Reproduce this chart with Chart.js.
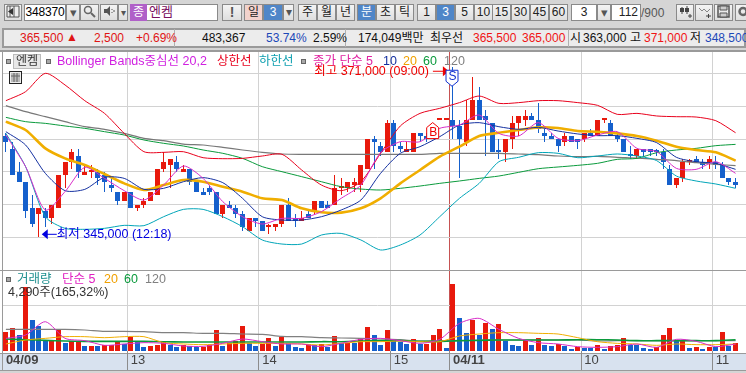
<!DOCTYPE html>
<html>
<head>
<meta charset="utf-8">
<script src="https://cdn.jsdelivr.net/npm/chart.js@4"></script>
<style>
html,body{margin:0;padding:0;width:746px;height:373px;overflow:hidden;background:#d5d5d5}
body{font-family:"Liberation Sans","Noto Sans CJK KR",sans-serif;font-size:12px;color:#222}
#root{position:absolute;left:0;top:0;width:746px;height:373px;overflow:hidden}
.b{position:absolute;box-sizing:border-box;text-align:center;white-space:nowrap}
.btn{background:linear-gradient(#f4f4f4,#dedede);border:1px solid #8a8a8a;color:#222}
.t{position:absolute;white-space:nowrap;line-height:14px}
canvas{position:absolute;left:0}
</style>
</head>
<body>
<div id="root">
  <div class="b" style="left:0;top:51px;width:746px;height:302px;background:#fff"></div>
  <div class="b" style="left:0;top:353px;width:746px;height:18px;background:#d8e2ef;border-top:1px solid #9a9a9a;border-bottom:1px solid #9a9a9a"></div>
  <canvas id="priceChart"></canvas>
  <canvas id="volChart"></canvas>
  <div id="ui"></div>
</div>
<script>
// 3 minute bars, 04/09 12:03 -> 04/11 11:09 (last two labels are the empty space on the right)
const labels = ["12:03","12:06","12:09","12:12","12:15","12:18","12:21","12:24","12:27","12:30","12:33","12:36","12:39","12:42","12:45","12:48","12:51","12:54","12:57",
  "13:00","13:03","13:06","13:09","13:12","13:15","13:18","13:21","13:24","13:27","13:30","13:33","13:36","13:39","13:42","13:45","13:48","13:51","13:54","13:57",
  "14:00","14:03","14:06","14:09","14:12","14:15","14:18","14:21","14:24","14:27","14:30","14:33","14:36","14:39","14:42","14:45","14:48","14:51","14:54","14:57",
  "15:00","15:03","15:06","15:09","15:12","15:15","15:18","15:21","15:24",
  "09:00","09:03","09:06","09:09","09:12","09:15","09:18","09:21","09:24","09:27","09:30","09:33","09:36","09:39","09:42","09:45","09:48","09:51","09:54","09:57",
  "10:00","10:03","10:06","10:09","10:12","10:15","10:18","10:21","10:24","10:27","10:30","10:33","10:36","10:39","10:42","10:45","10:48","10:51","10:54","10:57",
  "11:00","11:03","11:06","11:09","",""];

const opens = [360500,358500,355000,353500,349500,348500,349000,348000,349500,354500,356500,357500,354500,355000,355000,354500,353000,352000,350500,352000,
  349500,350000,350500,351500,355500,356000,356500,355000,355500,353500,352000,352500,352000,348500,350000,349500,348500,346000,348000,347500,
  346500,346500,347000,350000,348000,347500,348500,349000,350500,350000,350000,352500,352500,353000,353000,355500,360000,359000,358000,362500,
  359000,358000,358000,361000,360500,360500,363000,363000,363000,362000,359500,363000,366000,363500,362500,358000,358000,360000,362500,363000,
  363500,363000,361000,360500,360000,359500,360500,360000,360000,361000,360500,363000,362500,360500,360000,357500,357500,358500,358500,358000,
  358000,355500,353000,354000,356500,357000,356500,356500,356500,356000,354000,353500];
const closes = [359500,354500,353500,349000,347000,349500,348000,350000,354500,356500,358000,355000,355000,355000,354000,353500,352500,350500,352000,349500,
  350000,350500,352000,355500,356500,357000,355500,355500,353500,352000,351500,352000,348500,350000,349500,348500,346500,348000,347500,346000,
  346500,347000,350000,347500,347500,348000,348000,350500,349500,349500,352500,352500,353500,353500,356000,360000,359500,358000,362500,359000,
  358500,358500,361000,360500,360000,361000,363000,363000,362000,360000,363000,366000,363000,363000,358000,358000,360000,362500,363500,363500,
  363000,361500,360500,360000,359000,360500,359500,359500,361000,360500,363000,363000,360500,360000,358000,357500,358500,358000,358000,358000,
  356500,353000,354000,356500,356500,356500,356000,357000,356000,354000,353500,353000];
const highs = [361000,359500,356500,353500,351500,349500,349500,350000,354500,356500,358500,358500,356000,356000,355500,355000,354000,352000,352000,352000,
  350000,351000,352000,355500,358000,357000,357500,356000,355500,353500,352500,353000,352000,350000,350500,350000,349000,348000,348000,347500,
  347000,347000,350000,351000,348500,349000,349000,350500,350500,350500,354500,354000,353500,354000,356000,360000,360500,359500,363000,363000,
  359500,359500,361000,361000,361000,361000,363000,363000,371000,363000,366000,369500,368000,364500,362500,360000,360000,363500,363500,364500,
  364000,365500,361500,361000,360000,361000,360500,360000,361000,361500,363000,363000,363000,361000,360000,359000,358500,358500,358500,358500,
  358500,356000,354000,357000,357000,357500,357000,357500,357500,356500,354000,354000];
const lows = [358000,354500,353500,348000,346500,345000,346500,347000,349500,352500,355500,354000,354500,354000,353000,352000,352000,350000,350500,349500,
  349000,349500,350500,351500,355000,352500,355000,355000,353000,352000,351500,351500,348500,348000,349500,348000,346000,346000,346500,346000,
  345500,346000,346500,347500,346500,347500,348000,348500,349500,349500,350000,351500,352000,352000,352000,355500,355500,357500,358000,358000,
  358000,358000,358000,359500,359500,360000,363000,363000,360000,354000,359000,363000,363000,357500,358000,357000,356500,358500,360500,362000,
  363000,361000,359500,360000,358000,359000,359500,358500,359500,360500,360500,362500,360500,359500,358000,357000,357000,357500,357500,357500,
  355500,353000,352500,353500,356000,356500,355500,355500,355500,354000,353000,352500];
// bars with open == close that are painted blue
const flatDown = [75,95,99];

const volumes = [10550,12770,8880,35700,17200,13880,5370,5550,11660,4260,5370,5550,2780,2960,2780,3150,3330,5180,3700,7770,
  5000,2220,2780,3150,5180,3150,2220,3150,2960,2220,2400,3150,11660,2780,4260,5370,13880,4260,2780,4070,
  7220,2780,7770,4630,2220,1670,3890,3330,3890,2220,8330,4260,4440,4260,7220,13320,8880,3330,11660,6110,
  5000,3890,6660,3890,4070,8880,12210,1670,37190,18320,10000,17200,8880,15540,12210,14990,5740,3330,2780,6110,
  3330,7220,3330,2780,3890,2780,1110,2410,1850,1800,3330,1110,2780,3330,7220,3330,3200,1670,1110,2220,
  8880,12770,5740,5800,1670,2220,1110,2410,2040,10550,2780,4290];

// the moving averages
const lineIdx = [0,3,6,9,12,15,18,21,24,27,30,33,36,39,42,45,48,51,54,57,60,63,66,69,72,75,78,81,84,87,90,93,96,99,102,105,108,111];
const bbUpper = [365890,367270,370070,368290,365890,363950,360890,358090,357990,358090,357170,357020,357070,357430,357690,355290,352990,352130,353500,357840,362020,363950,364720,365590,366600,365480,365590,365890,365890,365590,365180,363800,363950,363550,363440,363390,362830,360990];
const bbLower = [360890,355800,348150,346370,346220,346370,346830,346780,348150,349270,349270,348150,346620,344590,343970,343970,345350,345600,344590,343060,343820,345350,348150,350960,353250,356560,357230,357940,357840,357170,357430,357740,357430,356720,354370,353610,353150,352490];
const ma5 = [360640,355800,349170,351980,355700,354010,352130,350700,352990,355900,354010,350450,348150,347030,347900,347900,348920,350960,352990,357940,359620,359620,361660,362170,363700,360890,360490,362530,360130,359770,360640,361150,358600,358090,355540,355390,356560,354780];
const ma10 = [361150,359110,354780,352130,352330,354170,354010,352330,352490,353500,354120,353350,350960,348150,347640,347640,348150,349170,350700,354780,357840,358860,360390,362170,362530,361910,361510,361810,361250,360800,360540,360540,360130,359470,357230,356560,356310,355390];
const ma20 = [362680,361400,358600,357070,356050,354680,353250,352230,352990,353760,353500,352740,351980,350960,350700,349430,348820,348770,349430,350960,353250,355290,357330,358860,360490,360990,361400,361810,361710,361250,361150,360890,360490,359770,358860,358350,357990,356720];
const ma60 = [363340,362680,362420,362020,361660,361150,360640,359880,359370,358960,358350,357840,357070,355800,355030,354270,353500,352740,352380,352230,352490,352840,353250,353610,354010,354370,354930,355490,355750,356000,356310,356920,357070,357940,358350,358600,359010,359210];
const ma120 = [365130,364210,363440,362680,361910,361510,360890,360130,359770,359260,359110,358750,358350,357990,357740,357690,357690,357690,357690,357690,357690,357690,357840,357840,357840,357840,357740,357630,357430,357330,357380,357230,357120,356920,356720,356410,356160,355950];

const volMa5 = [7030,8880,16280,7030,5740,3150,3890,4630,4260,2780,2590,4260,6660,5180,3890,3890,2410,4260,6480,7030,5740,4260,6480,15360,18130,12030,7030,4630,3890,2410,2040,2410,3890,2040,6480,5370,2410,3890];
const volMa20 = [3890,6110,7030,7960,7960,7400,7960,7960,4630,3890,3520,3890,4260,4260,4260,3890,3330,4260,5180,5180,5550,5180,5180,8330,9440,10180,10180,9810,9440,7400,5180,4260,3890,3150,3890,3520,3520,3890];
const volMa60 = [6660,6290,5920,5550,5370,5370,5370,5370,5180,5000,5000,5000,5000,5000,5000,5000,5180,5180,5550,5740,5740,5370,5370,5740,5920,6110,6110,6110,6110,6290,6290,6110,5740,5740,5740,5740,5740,6290];
const volMa120 = [12030,12030,12030,12030,11660,10920,10920,10730,10180,10180,9810,9810,9440,9250,8140,7960,7400,7220,7030,6660,6290,5550,5740,5740,5920,6110,6110,6110,6110,6110,5550,5740,5740,5740,5740,5740,5740,5740];

// tick labels under the chart, index -> text
const timeTickIdx = [0,19,39,59,68,88,108];
const timeTicks = ["04/09","13","14","15","04/11","10","11"];
const dateTicks = ["04/09","04/11"];
const priceGrid = [345000,350000,355000,360000,365000,370000];
const volGrid = [25000];

const RED = "#e8190c", BLUE = "#1560cc", GRID = "#d2d2d2", MARK = "#c65252";
const FONT = '"Liberation Sans","Noto Sans CJK KR",sans-serif';

function candleColor(i){
  if (closes[i] > opens[i]) return RED;
  if (closes[i] < opens[i]) return BLUE;
  return flatDown.includes(i) ? BLUE : RED;
}

function lineSet(values, color, width, order){
  return {
    type: "line",
    data: values.map((v,i) => ({x: labels[lineIdx[i]], y: v})),
    borderColor: color, borderWidth: width, pointRadius: 0, tension: 0.25, order: order
  };
}

// keep the bars on whole pixels, the original has no blur on wicks
const snapBars = {
  id: "snapBars",
  afterDatasetsUpdate(chart){
    chart.getSortedVisibleDatasetMetas().forEach(meta => {
      if (meta.type !== "bar") return;
      meta.data.forEach(el => {
        el.x = Math.floor(el.x) + 0.5;
        el.y = Math.round(el.y);
        el.base = Math.round(el.base);
      });
    });
  }
};

function gridWidth(ctx){
  return timeTickIdx.slice(1).includes(ctx.index) ? 1 : 0;
}
function gridColor(ctx){
  return ctx.index === 68 ? MARK : GRID;
}

const marks = {
  id: "marks",
  afterDatasetsDraw(chart){
    const c = chart.ctx, x = chart.scales.x, y = chart.scales.y;
    c.save();
    c.textBaseline = "middle";
    c.font = "12.500px " + FONT;

    // lowest price
    const lowX = x.getPixelForValue(5), lowY = y.getPixelForValue(345000) - 3;
    c.fillStyle = c.strokeStyle = "#0000e0";
    c.fillRect(lowX + 8, lowY - 0.5, 10, 1);
    c.beginPath(); c.moveTo(lowX + 3, lowY); c.lineTo(lowX + 9, lowY - 5); c.lineTo(lowX + 9, lowY + 5); c.fill();
    c.fillText("최저 345,000 (12:18)", lowX + 18, lowY);

    // highest price
    const highX = x.getPixelForValue(68), highY = y.getPixelForValue(371000) + 4;
    c.fillStyle = "#f00000";
    c.textAlign = "right";
    c.fillText("최고 371,000 (09:00)", highX - 24, highY);
    c.fillRect(highX - 20, highY - 0.5, 12, 1);
    c.beginPath(); c.moveTo(highX - 4, highY); c.lineTo(highX - 10, highY - 5); c.lineTo(highX - 10, highY + 5); c.fill();

    // sell and buy signals
    shield(c, Math.floor(highX), y.getPixelForValue(371000) + 3, "S", "#1030d0", true);
    shield(c, x.getPixelForValue(65) - 0.5, y.getPixelForValue(363000) + 3, "B", "#f00000", false);
    c.restore();
  }
};

function shield(c, cx, top, txt, color, down){
  const w = 6, h = 16;
  c.beginPath();
  if (down){
    c.moveTo(cx - w, top); c.lineTo(cx + w, top); c.lineTo(cx + w, top + h - 5); c.lineTo(cx, top + h); c.lineTo(cx - w, top + h - 5);
  } else {
    c.moveTo(cx, top); c.lineTo(cx + w, top + 5); c.lineTo(cx + w, top + h); c.lineTo(cx - w, top + h); c.lineTo(cx - w, top + 5);
  }
  c.closePath();
  c.fillStyle = "#fff"; c.fill();
  c.lineWidth = 1; c.strokeStyle = color; c.stroke();
  c.fillStyle = color;
  c.textAlign = "center";
  c.font = "12px " + FONT;
  c.fillText(txt, cx + 0.5, top + (down ? 6 : 10));
}

function baseOptions(yMin, yMax, gridValues){
  return {
    responsive: false, animation: false, events: [],
    layout: {padding: {left: 2.6, right: 0, top: 0, bottom: 0}},
    plugins: {legend: {display: false}, tooltip: {enabled: false}},
    scales: {
      x: {
        offset: true,
        border: {display: false},
        grid: {offset: true, color: gridColor, lineWidth: gridWidth, drawTicks: false, tickLength: 0},
        ticks: {display: false, autoSkip: false},
        afterFit: s => { s.height = 0; }
      },
      y: {
        min: yMin, max: yMax,
        border: {display: false},
        grid: {color: GRID, drawTicks: false, tickLength: 0},
        ticks: {display: false},
        afterBuildTicks: s => { s.ticks = gridValues.map(v => ({value: v})); },
        afterFit: s => { s.width = 0; }
      }
    }
  };
}

// price pane
const priceCanvas = document.getElementById("priceChart");
priceCanvas.style.top = "52px";
priceCanvas.width = 752; priceCanvas.height = 218;
new Chart(priceCanvas, {
  type: "bar",
  data: {
    labels: labels,
    datasets: [
      {data: lows.map((l,i) => [l, highs[i]]), backgroundColor: opens.map((o,i) => candleColor(i)), barThickness: 1, grouped: false, inflateAmount: 0, order: 11},
      {data: opens.map((o,i) => [Math.min(o, closes[i]), Math.max(o, closes[i])]), backgroundColor: opens.map((o,i) => candleColor(i)), barThickness: 5, minBarLength: 2, grouped: false, inflateAmount: 0, order: 10},
      lineSet(ma120, "#787878", 1.2, 7),
      lineSet(ma60, "#0a9a3c", 1, 6),
      lineSet(bbUpper, "#e8001c", 1, 5),
      lineSet(bbLower, "#00a5b8", 1, 5),
      lineSet(ma20, "#d82cc8", 1, 4),
      lineSet(ma20, "#f0ae00", 2.6, 3),
      lineSet(ma10, "#1430a0", 1, 2),
      lineSet(ma5, "#d82cc8", 1, 1)
    ]
  },
  options: baseOptions(340000, 373333, priceGrid),
  plugins: [snapBars, marks]
});

// volume pane, its x axis carries the time labels
const volCanvas = document.getElementById("volChart");
volCanvas.style.top = "271px";
volCanvas.width = 752; volCanvas.height = 100;
const volOptions = baseOptions(0, 44444, volGrid);
volOptions.scales.x.afterFit = s => { s.height = 20; };
volOptions.scales.x.grid.drawTicks = true;
volOptions.scales.x.grid.tickLength = 19;
volOptions.scales.x.grid.tickColor = "#8c8c8c";
volOptions.scales.x.ticks = {
  display: true, autoSkip: false, maxRotation: 0, align: "start", padding: -17, color: "#444",
  font: ctx => ({size: 13, family: FONT, weight: dateTicks.includes(timeTicks[timeTickIdx.indexOf(ctx.index)]) ? "bold" : "normal"}),
  callback: (v, i) => { const k = timeTickIdx.indexOf(i); return k >= 0 ? timeTicks[k] : ""; }
};
new Chart(volCanvas, {
  type: "bar",
  data: {
    labels: labels,
    datasets: [
      {data: volumes, backgroundColor: volumes.map((v,i) => (i === 0 || v >= volumes[i-1]) ? RED : BLUE), barThickness: 5, inflateAmount: 0, order: 10},
      lineSet(volMa120, "#808080", 1.2, 4),
      lineSet(volMa60, "#0a9a3c", 1.6, 3),
      lineSet(volMa20, "#f0ae00", 1, 2),
      lineSet(volMa5, "#d82cc8", 1, 1)
    ]
  },
  options: volOptions,
  plugins: [snapBars]
});

// toolbar and legend text, plain html
const ui = document.getElementById("ui");
function box(x, y, w, h, txt, css){
  const d = document.createElement("div");
  d.className = "b btn";
  d.style.cssText = `left:${x}px;top:${y}px;width:${w}px;height:${h}px;line-height:${h-2}px;` + (css || "");
  d.innerHTML = txt;
  ui.appendChild(d);
}
function text(x, y, txt, color, css){
  const d = document.createElement("div");
  d.className = "t";
  d.style.cssText = `left:${x}px;top:${y}px;color:${color};` + (css || "");
  d.textContent = txt;
  ui.appendChild(d);
}
const white = "background:#fff;";
const big = "font-size:12.5px;";

// first row
box(4, 4, 18, 17, '<svg width="14" height="13" viewBox="0 0 14 13"><path d="M1 1h12v11H1z" fill="#eee" stroke="#555"/><path d="M4 1v11M8 1v11" stroke="#555"/><path d="M7 3L2 6.5 7 10z" fill="#333"/></svg>');
box(24, 4, 42, 17, "348370", white + "font-size:12px;letter-spacing:-0.2px;color:#000;");
box(66, 4, 14, 17, "▾", "color:#555;font-size:13px;");
box(80, 4, 19, 17, '<svg width="13" height="13" viewBox="0 0 13 13"><circle cx="5" cy="5" r="3.5" fill="none" stroke="#666" stroke-width="1.5"/><path d="M8 8l4 4" stroke="#666" stroke-width="2"/></svg>');
box(100, 4, 18, 17, '<svg width="12" height="12" viewBox="0 0 12 12"><path d="M1 4h3l3-3v10L4 8H1z" fill="#555"/><path d="M9 4v1M9 7v1M11 5v2" stroke="#555"/></svg>');
box(118, 4, 10, 17, "▾", "color:#555;font-size:10px;");
box(130, 4, 88, 17, "", white);
box(130, 4, 17, 17, "종", "background:#b060c8;color:#fff;border-color:#b060c8;");
text(149, 5, "엔켐", "#7a1060", "font-size:13px;");
box(222, 4, 20, 17, "!", "color:#555;font-weight:bold;font-size:14px;");
box(244, 4, 19, 17, "일", "background:#f2d2cc;");
box(263, 4, 20, 17, "3", "background:#4f86c8;color:#fff;");
box(283, 4, 11, 17, "▾", "color:#555;font-size:12px;");
[["주",298],["월",317],["년",336],["초",376],["틱",395]].forEach(b => box(b[1], 4, 19, 17, b[0]));
box(357, 4, 19, 17, "분", "background:#4f86c8;color:#fff;");
[["1",417],["5",455],["10",474],["15",492],["30",511],["45",530],["60",549]].forEach(b => box(b[1], 4, 19, 17, b[0]));
box(436, 4, 19, 17, "3", "background:#4f86c8;color:#fff;");
box(571, 4, 26, 17, "3", white);
box(597, 4, 14, 17, "▾", "color:#555;font-size:13px;");
box(611, 4, 30, 17, "112", white + "text-align:right;padding-right:2px;");
text(641, 6, "/900", "#555");
box(676, 4, 18, 17, '<svg width="13" height="13" viewBox="0 0 13 13"><path d="M3 2v7M8 1v8" stroke="#444"/><path d="M1 3h4v4H1zM6 3h4v4H6z" fill="#444"/><path d="M9 11h4M11 9v4" stroke="#444"/></svg>');
box(695, 4, 18, 17, '<svg width="13" height="13" viewBox="0 0 13 13"><path d="M1 3l3 3 2-2 3 3 3-3" stroke="#888" fill="none"/><path d="M8 11h5M10.500 9v4" stroke="#444"/></svg>');
box(714, 4, 19, 17, '<svg width="13" height="13" viewBox="0 0 13 13"><path d="M1 1h11v11H1z" fill="none" stroke="#555" stroke-width="1.5"/><path d="M3 1h7v4H3zM3 8h7v4H3z" fill="#ccc" stroke="#555"/></svg>');
box(735, 4, 14, 17, '<svg width="13" height="13" viewBox="0 0 13 13"><circle cx="7" cy="6.500" r="3.500" fill="none" stroke="#666" stroke-width="2.500"/></svg>');

// second row
box(2, 28, 744, 20, "", "background:#ececec;border:2px solid #9a9a9a;");
[174,345,568].forEach(x => box(x, 29, 1, 18, "", "background:#b0b0b0;border:none;"));
text(20, 31, "365,500", "#e01414");
text(66, 30, "▲", "#e01414");
text(94, 31, "2,500", "#e01414");
text(136, 31, "+0.69%", "#e01414");
text(202, 31, "483,367", "#111");
text(266, 31, "53.74%", "#1c48b8");
text(313, 31, "2.59%", "#111");
text(358, 31, "174,049백만", "#111");
text(430, 31, "최우선", "#111");
text(473, 31, "365,500", "#f01414");
text(522, 31, "365,000", "#f01414");
text(570, 31, "시", "#111");
text(583, 31, "363,000", "#111");
text(630, 31, "고", "#111");
text(644, 31, "371,000", "#f01414");
text(690, 31, "저", "#111");
text(705, 31, "348,500", "#1c48b8");

// legend of the price pane
box(6, 59, 5, 5, "", "background:#a8a8a8;border-color:#666;");
box(13, 54, 28, 15, "엔켐", "background:#e8e8e8;border-color:#bbb;color:#333;");
box(46, 59, 5, 5, "", "background:#a8a8a8;border-color:#666;");
text(57, 54, "Bollinger Bands중심선 20,2", "#d020e0", big);
text(217, 54, "상한선", "#e8001c", big);
text(259, 54, "하한선", "#10a0b0", big);
box(301, 59, 5, 5, "", "background:#a8a8a8;border-color:#666;");
text(313, 54, "종가 단순 5", "#e020a0", big);
text(383, 54, "10", "#1430a0", big);
text(403, 54, "20", "#f0a000", big);
text(423, 54, "60", "#0a9a3c", big);
text(444, 54, "120", "#808080", big);
box(9, 71, 13, 13, '<svg width="9" height="9" viewBox="0 0 9 9" style="display:block;margin:1px"><path d="M0 0h9v9H0z" fill="#bbb"/><path d="M3 0v9M6 0v9M0 3h9" stroke="#666"/></svg>', "background:#eee;border-color:#222;");

// legend of the volume pane
box(6, 277, 5, 5, "", "background:#a8a8a8;border-color:#666;");
text(17, 272, "거래량", "#209090", big);
text(62, 272, "단순 5", "#e020c0", big);
text(104, 272, "20", "#f0a000", big);
text(124, 272, "60", "#0a9a3c", big);
text(145, 272, "120", "#808080", big);
text(8, 285, "4,290주(165,32%)", "#333", big);

// pane frame
box(2, 51, 1, 320, "", "background:#9a9a9a;border:none;");
box(0, 50, 746, 2, "", "background:#9a9a9a;border:none;");
box(0, 270, 746, 1, "", "background:#9a9a9a;border:none;");
</script>
</body>
</html>
